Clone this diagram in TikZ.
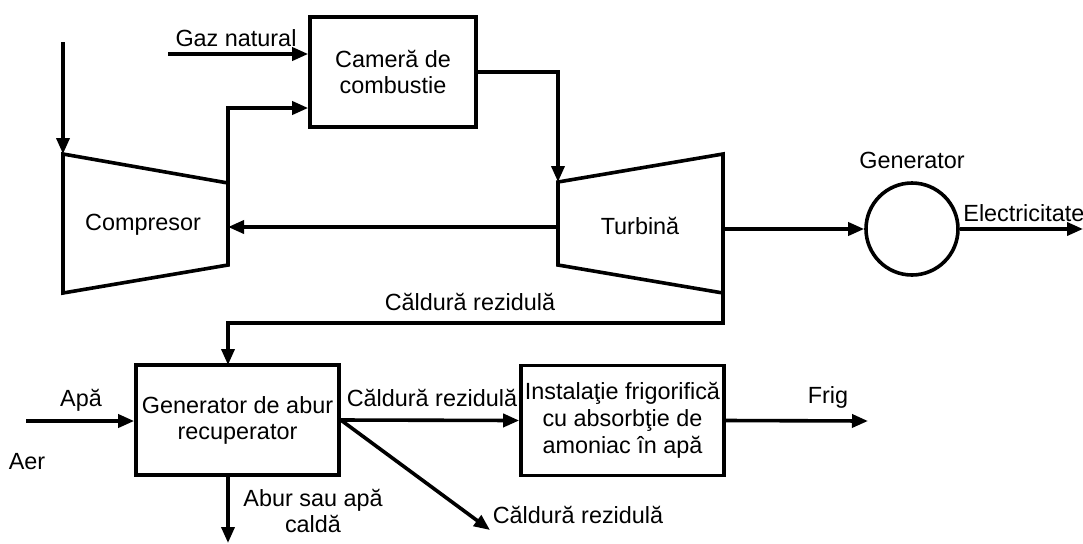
\documentclass[tikz,border=0pt]{standalone}
\usepackage{fontspec}
\setmainfont{Liberation Sans}
\usetikzlibrary{arrows.meta}
\begin{document}
\begin{tikzpicture}[x=0.5pt,y=-0.5pt,
  font=\fontsize{11.7pt}{13pt}\selectfont,
  ln/.style={line width=1.8pt, line join=miter},
  arr/.style={ln, -{Triangle[length=8pt,width=6.5pt]}},
  boxnode/.style={draw, line width=1.8pt, align=center, inner sep=0pt, minimum height=55pt},
  lbl/.style={inner sep=0pt, align=center}]
\useasboundingbox (0,0) rectangle (1083,543);
% compressor
\coordinate (c1) at (63,154);
\coordinate (c2) at (228,183);
\coordinate (c3) at (228,265);
\coordinate (c4) at (63,293);
\draw[ln] (c1) -- (c2) -- (c3) -- (c4) -- cycle;
\node[lbl] (comp) at (143,225) {Compresor};
% turbine
\coordinate (t1) at (558,182);
\coordinate (t2) at (723,154);
\coordinate (t3) at (723,293);
\coordinate (t4) at (558,265);
\draw[ln] (t1) -- (t2) -- (t3) -- (t4) -- cycle;
\node[lbl] (turb) at (640,226) {Turbină};
% boxes
\node[boxnode, minimum width=83pt] (comb) at (393,72) {Cameră de\\combustie};
\node[boxnode, minimum width=101.5pt] (hrsg) at (237.5,420) {Generator de abur\\recuperator};
\node[boxnode, minimum width=101.5pt, font=\fontsize{11.7pt}{13.5pt}\selectfont] (chill) at (622.5,420.5) {Instalaţie frigorifică\\cu absorbţie de\\amoniac în apă};
\node[draw, circle, line width=1.8pt, minimum size=46pt, inner sep=0pt] (gen) at (912,229) {};
% coordinates
\coordinate (ain) at (63,42);
\coordinate (gas) at (168,54);
\coordinate (cinlvl) at (0,108);
\coordinate (shT) at (558,227);
\coordinate (shC) at (228,227);
\coordinate (tout) at (723,229);
\coordinate (elec) at (1083,229);
\coordinate (wlvl) at (0,323);
\coordinate (hin) at (228,365);
\coordinate (apa) at (26,421);
\coordinate (hout) at (228,475);
\coordinate (abur) at (228,543);
\coordinate (diag) at (490,530);
\coordinate (frig) at (868,421);
% connectors
\draw[arr] (ain) -- (c1);
\draw[arr] (gas) -- (gas -| comb.west);
\draw[arr] (c2) -- (c2 |- cinlvl) -- (cinlvl -| comb.west);
\draw[arr] (comb.east) -| (t1);
\draw[arr] (shT) -- (shC);
\draw[arr] (tout) -- (gen.west);
\draw[arr] (gen.east) -- (elec);
\draw[arr] (t3) -- (t3 |- wlvl) -- (wlvl -| hin) -- (hin);
\draw[arr] (apa) -- (apa -| hrsg.west);
\draw[arr] (hout) -- (abur);
\draw[arr] (hrsg.east) -- (chill.west);
\draw[arr] (hrsg.east) -- (diag);
\draw[arr] (chill.east) -- (frig);
% labels
\node[lbl] (lgaz) at (236,38) {Gaz natural};
\node[lbl] (lgen) at (912,160) {Generator};
\node[lbl, anchor=west] (lel) at (963,213) {Electricitate};
\node[lbl] (lw1) at (470,302) {Căldură rezidulă};
\node[lbl] (lapa) at (81,400) {Apă};
\node[lbl] (laer) at (27,462) {Aer};
\node[lbl] (labur) at (313,511) {Abur sau apă\\caldă};
\node[lbl] (lw2) at (432,398) {Căldură rezidulă};
\node[lbl] (lw3) at (578,515) {Căldură rezidulă};
\node[lbl] (lfrig) at (828,397) {Frig};
\end{tikzpicture}
\end{document}
